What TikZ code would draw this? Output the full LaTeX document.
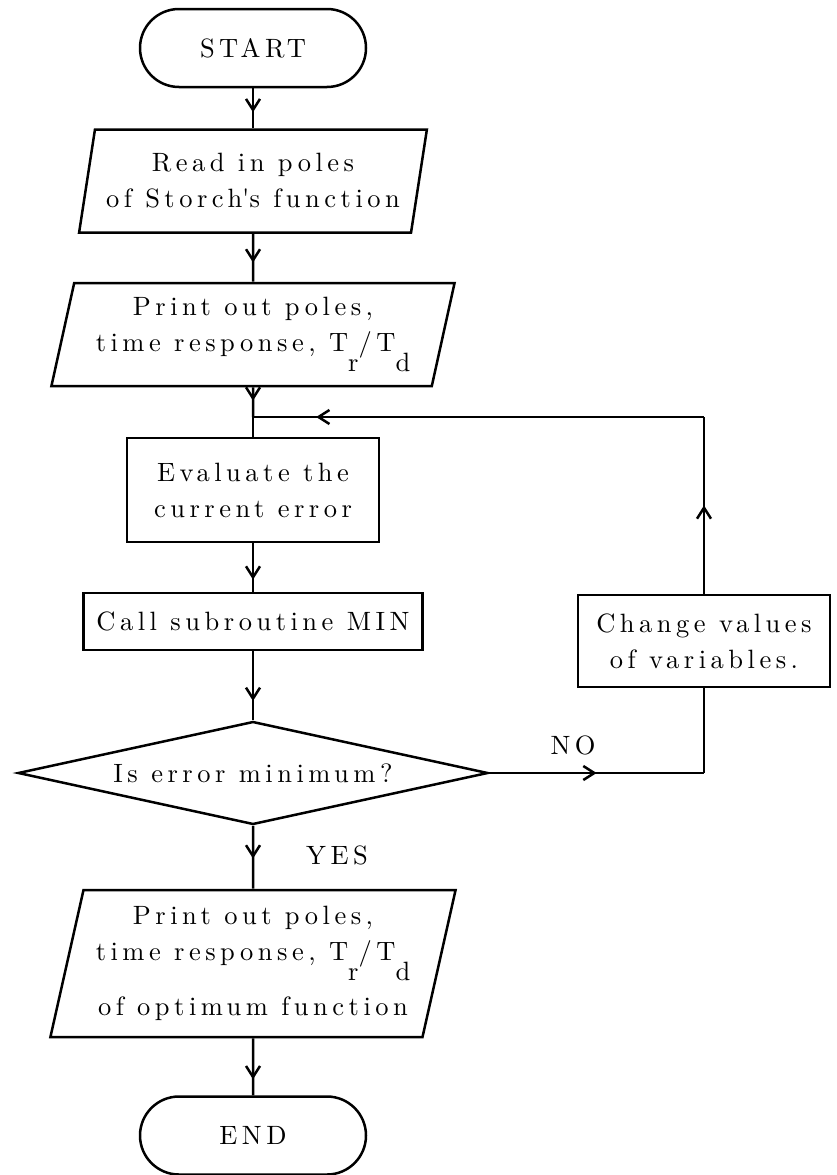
\documentclass[tikz,border=0pt]{standalone}
\usepackage{fontspec}
\setmainfont{lmroman10-regular.otf}[LetterSpace=17]
\usetikzlibrary{shapes.geometric,arrows.meta,decorations.markings}

\newcommand{\lowsub}[1]{\raisebox{-20pt}{#1}}

\begin{document}
\begin{tikzpicture}[
    x=1pt, y=-1pt,
    font=\fontsize{26.5}{36}\selectfont,
    line width=2.5pt,
    >={Straight Barb[length=11pt,width=14pt]},
    terminal/.style={
        rectangle,
        draw,
        rounded corners=39pt,
        minimum width=226pt,
        minimum height=78pt,
        inner sep=0pt
    },
    io/.style={
        trapezium,
        trapezium left angle=75,
        trapezium right angle=105,
        trapezium stretches=true,
        draw,
        align=center,
        inner sep=0pt
    },
    process/.style={
        rectangle,
        draw,
        align=center,
        inner sep=0pt
    },
    decision/.style={
        diamond,
        draw,
        aspect=4.5,
        inner sep=0pt
    },
    flow/.style={
        postaction={decorate},
        decoration={markings, mark=at position #1 with {\arrow{>}}}
    },
    flow/.default=0.6
]

\useasboundingbox (0,0) rectangle (836,1175);

\def\axis{253}

%% --- Start ---
\node[terminal] (Start) at (\axis,48) {START};

%% --- Input / output ---
\node[io, minimum width=349pt, minimum height=103pt] (Read) at (\axis,181)
    {Read in poles\\of Storch\textquotesingle s function};
\node[io, minimum width=405pt, minimum height=103pt] (Print) at (\axis,334.5)
    {Print out poles,\\time response,\ T\lowsub{r}/T\lowsub{d}};

\coordinate (Join) at (\axis,417);

%% --- Loop body ---
\node[process, minimum width=252pt, minimum height=104pt] (Eval) at (\axis,490)
    {Evaluate the\\current error};
\node[process, minimum width=339pt, minimum height=57pt] (Call) at (\axis,621.5)
    {Call subroutine MIN};
\node[decision, minimum width=470pt, minimum height=103pt] (Test) at (\axis,773)
    {Is error minimum?};
\node[process, minimum width=252pt, minimum height=92pt] (Change) at (704,641)
    {Change values\\of variables.};

%% --- Result ---
\node[io, minimum width=406pt, minimum height=147pt] (Out) at (\axis,963.5)
    {Print out poles,\\time response,\ T\lowsub{r}/T\lowsub{d}\\[15pt]of optimum function};
\node[terminal] (End) at (\axis,1135.5) {END};

%% --- Labels ---
\node (Yes) at (337,855) {YES};
\node (No) at (573,745) {NO};

\coordinate (Corner) at (Change.north |- Join);
\coordinate (Bend) at (Change.south |- Test.east);

%% --- Connections ---
\draw[flow=0.6] (Start) -- (Read);
\draw[flow=0.6] (Read) -- (Print);
\draw[flow=0.45] (Print) -- (Join);
\draw (Join) -- (Eval);
\draw[flow=0.75] (Eval) -- (Call);
\draw[flow=0.72] (Call) -- (Test);
\draw[flow=0.52] (Test) -- (Out);
\draw[flow=0.72] (Out) -- (End);

%% --- Loop back ---
\draw[flow=0.5] (Test.east) -- (Bend);
\draw (Bend) -- (Change);
\draw[flow=0.5] (Change) -- (Corner);
\draw[flow=0.86] (Corner) -- (Join);

\end{tikzpicture}
\end{document}
